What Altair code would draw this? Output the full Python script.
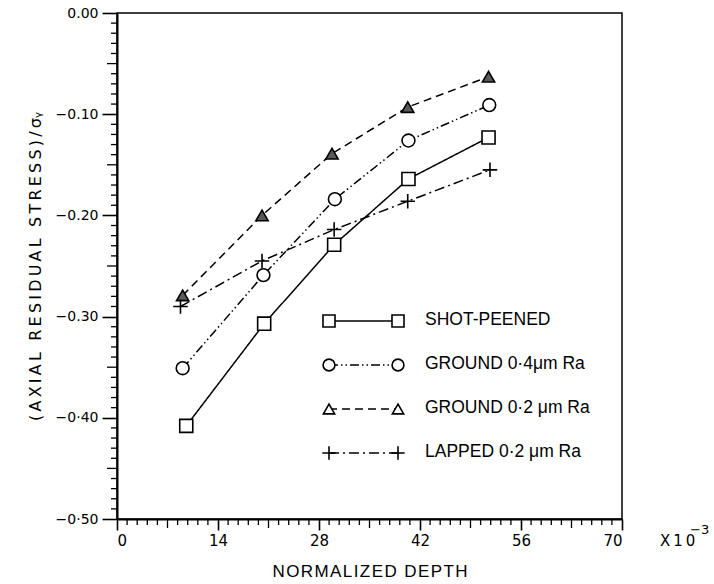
import altair as alt
import pandas as pd

# Normalized depth (x 10^-3) against axial residual stress / yield stress
sp_depth = [9.6, 20.4, 30.1, 40.4, 51.5]
sp_stress = [-0.408, -0.307, -0.229, -0.164, -0.123]

g4_depth = [9.1, 20.3, 30.2, 40.4, 51.6]
g4_stress = [-0.351, -0.259, -0.184, -0.126, -0.091]

g2_depth = [9.1, 20.1, 29.8, 40.3, 51.5]
g2_stress = [-0.279, -0.200, -0.139, -0.093, -0.063]

lp_depth = [8.8, 20.1, 30.1, 40.3, 51.7]
lp_stress = [-0.290, -0.245, -0.214, -0.186, -0.155]

series_names = ["SHOT-PEENED", "GROUND 0·4μm Ra", "GROUND 0·2 μm Ra", "LAPPED 0·2 μm Ra"]

x_tick_values = [0, 14, 28, 42, 56, 70]
y_tick_values = [0.0, -0.1, -0.2, -0.3, -0.4, -0.5]
y_tick_labels = ["0.00", "−0.10", "−0.20", "−0.30", "−0·40", "−0·50"]

# minor / medium tick positions along each axis
x_minor = [round(1.4 * i, 2) for i in range(51) if i % 5 != 0]
x_medium = [7, 21, 35, 49, 63]
y_minor = [round(-0.01 * i, 3) for i in range(51) if i % 5 != 0]
y_medium = [-0.05, -0.15, -0.25, -0.35, -0.45]

W, H = 505, 506
FONT = "DejaVu Sans"
TEXT_FONT = "Liberation Sans"
INK = "black"


def spaced(text, gap="\u2009"):
    """Open up the letter spacing of stencil-style lettering."""
    return gap.join(text)


x_scale = alt.Scale(domain=[0, 70], nice=False, zero=False)
y_scale = alt.Scale(domain=[-0.5, 0], nice=False, zero=False)

label_expr = " : ".join(
    f"abs(datum.value - ({v})) < 1e-6 ? '{t}'" for v, t in zip(y_tick_values, y_tick_labels)
) + " : ''"

x_axis = alt.Axis(
    values=x_tick_values, tickSize=11, tickWidth=1.6, tickColor=INK,
    domainColor=INK, domainWidth=2, labelFont=FONT, labelFontSize=15,
    labelColor=INK, labelPadding=3, grid=False,
    title=spaced("NORMALIZED DEPTH", "\u200a"), titleFont=TEXT_FONT, titleFontSize=17,
    titleFontWeight="normal", titleColor=INK, titlePadding=15,
)
y_axis = alt.Axis(
    values=y_tick_values, tickSize=15, tickWidth=1.6, tickColor=INK,
    domainColor=INK, domainWidth=2, labelFont=FONT, labelFontSize=14,
    labelColor=INK, labelPadding=4, labelExpr=label_expr, grid=False,
    title=spaced("(AXIAL RESIDUAL STRESS)/σ") + "ᵧ", titleFont=FONT, titleFontSize=16,
    titleFontWeight="normal", titleColor=INK, titlePadding=12,
)

styles = [
    dict(depth=sp_depth, stress=sp_stress, dash=[1, 0], shape="square", fill="white", size=170),
    dict(depth=g4_depth, stress=g4_stress, dash=[9, 3, 1.5, 3, 1.5, 3], shape="circle", fill="white", size=165),
    dict(depth=g2_depth, stress=g2_stress, dash=[8, 5], shape="triangle-up", fill="#5a5a5a", size=150),
    dict(depth=lp_depth, stress=lp_stress, dash=[10, 4, 2, 4], shape="M-1,0L1,0M0,-1L0,1", fill="none", size=210),
]

layers = []

# axes with major ticks and labels
frame_df = pd.DataFrame({"depth": [0, 70], "stress": [-0.5, 0]})
layers.append(
    alt.Chart(frame_df).mark_point(opacity=0).encode(
        x=alt.X("depth:Q", scale=x_scale, axis=x_axis),
        y=alt.Y("stress:Q", scale=y_scale, axis=y_axis),
    )
)

# minor and medium ticks
def x_ticks(vals, length):
    return alt.Chart(pd.DataFrame({"depth": vals})).mark_rule(color=INK, strokeWidth=1.3).encode(
        x=alt.X("depth:Q", scale=x_scale), y=alt.value(H), y2=alt.value(H + length)
    )

def y_ticks(vals, length):
    return alt.Chart(pd.DataFrame({"stress": vals})).mark_rule(color=INK, strokeWidth=1.3).encode(
        y=alt.Y("stress:Q", scale=y_scale), x=alt.value(0), x2=alt.value(-length)
    )

layers += [x_ticks(x_minor, 6), x_ticks(x_medium, 9), y_ticks(y_minor, 6), y_ticks(y_medium, 10)]

# data series
for s in styles:
    df = pd.DataFrame({"depth": s["depth"], "stress": s["stress"]})
    layers.append(
        alt.Chart(df).mark_line(color=INK, strokeWidth=1.5, strokeDash=s["dash"]).encode(
            x=alt.X("depth:Q", scale=x_scale), y=alt.Y("stress:Q", scale=y_scale)
        )
    )
    layers.append(
        alt.Chart(df).mark_point(
            shape=s["shape"], size=s["size"], fill=s["fill"], stroke=INK,
            strokeWidth=1.6, opacity=1, fillOpacity=1, filled=s["fill"] != "none",
        ).encode(x=alt.X("depth:Q", scale=x_scale), y=alt.Y("stress:Q", scale=y_scale))
    )

# legend block
LEG_X0, LEG_X1, LEG_TX = 212, 281, 308
LEG_Y0, LEG_DY = 308, 44
one = pd.DataFrame({"k": [0]})
for i, (name, s) in enumerate(zip(series_names, styles)):
    ly = LEG_Y0 + i * LEG_DY
    fill = "white" if s["fill"] != "none" else "none"
    layers.append(
        alt.Chart(one).mark_rule(color=INK, strokeWidth=1.5, strokeDash=s["dash"]).encode(
            x=alt.value(LEG_X0), x2=alt.value(LEG_X1), y=alt.value(ly)
        )
    )
    for px in (LEG_X0, LEG_X1):
        layers.append(
            alt.Chart(one).mark_point(
                shape=s["shape"], size=s["size"] * 0.85, fill=fill, stroke=INK,
                strokeWidth=1.6, opacity=1, fillOpacity=1, filled=fill != "none",
            ).encode(x=alt.value(px), y=alt.value(ly))
        )
    layers.append(
        alt.Chart(one).mark_text(
            align="left", baseline="middle", font=TEXT_FONT, fontSize=17.5, color=INK
        ).encode(x=alt.value(LEG_TX), y=alt.value(ly - 1), text=alt.value(name))
    )

# axis multiplier note
layers.append(
    alt.Chart(one).mark_text(align="left", baseline="middle", font=FONT, fontSize=15, color=INK).encode(
        x=alt.value(543), y=alt.value(528), text=alt.value(spaced("X10"))
    )
)
layers.append(
    alt.Chart(one).mark_text(align="left", baseline="middle", font=FONT, fontSize=13, color=INK).encode(
        x=alt.value(573), y=alt.value(517), text=alt.value("−3")
    )
)

chart = (
    alt.layer(*layers)
    .properties(
        width=W, height=H,
        autosize=alt.AutoSizeParams(type="none"),
        padding={"left": 117, "top": 13, "right": 92, "bottom": 65},
        background="white",
    )
    .configure_view(stroke=INK, strokeWidth=1.5)
)

chart.save("out.html", embed_options={"renderer": "svg", "actions": False})
